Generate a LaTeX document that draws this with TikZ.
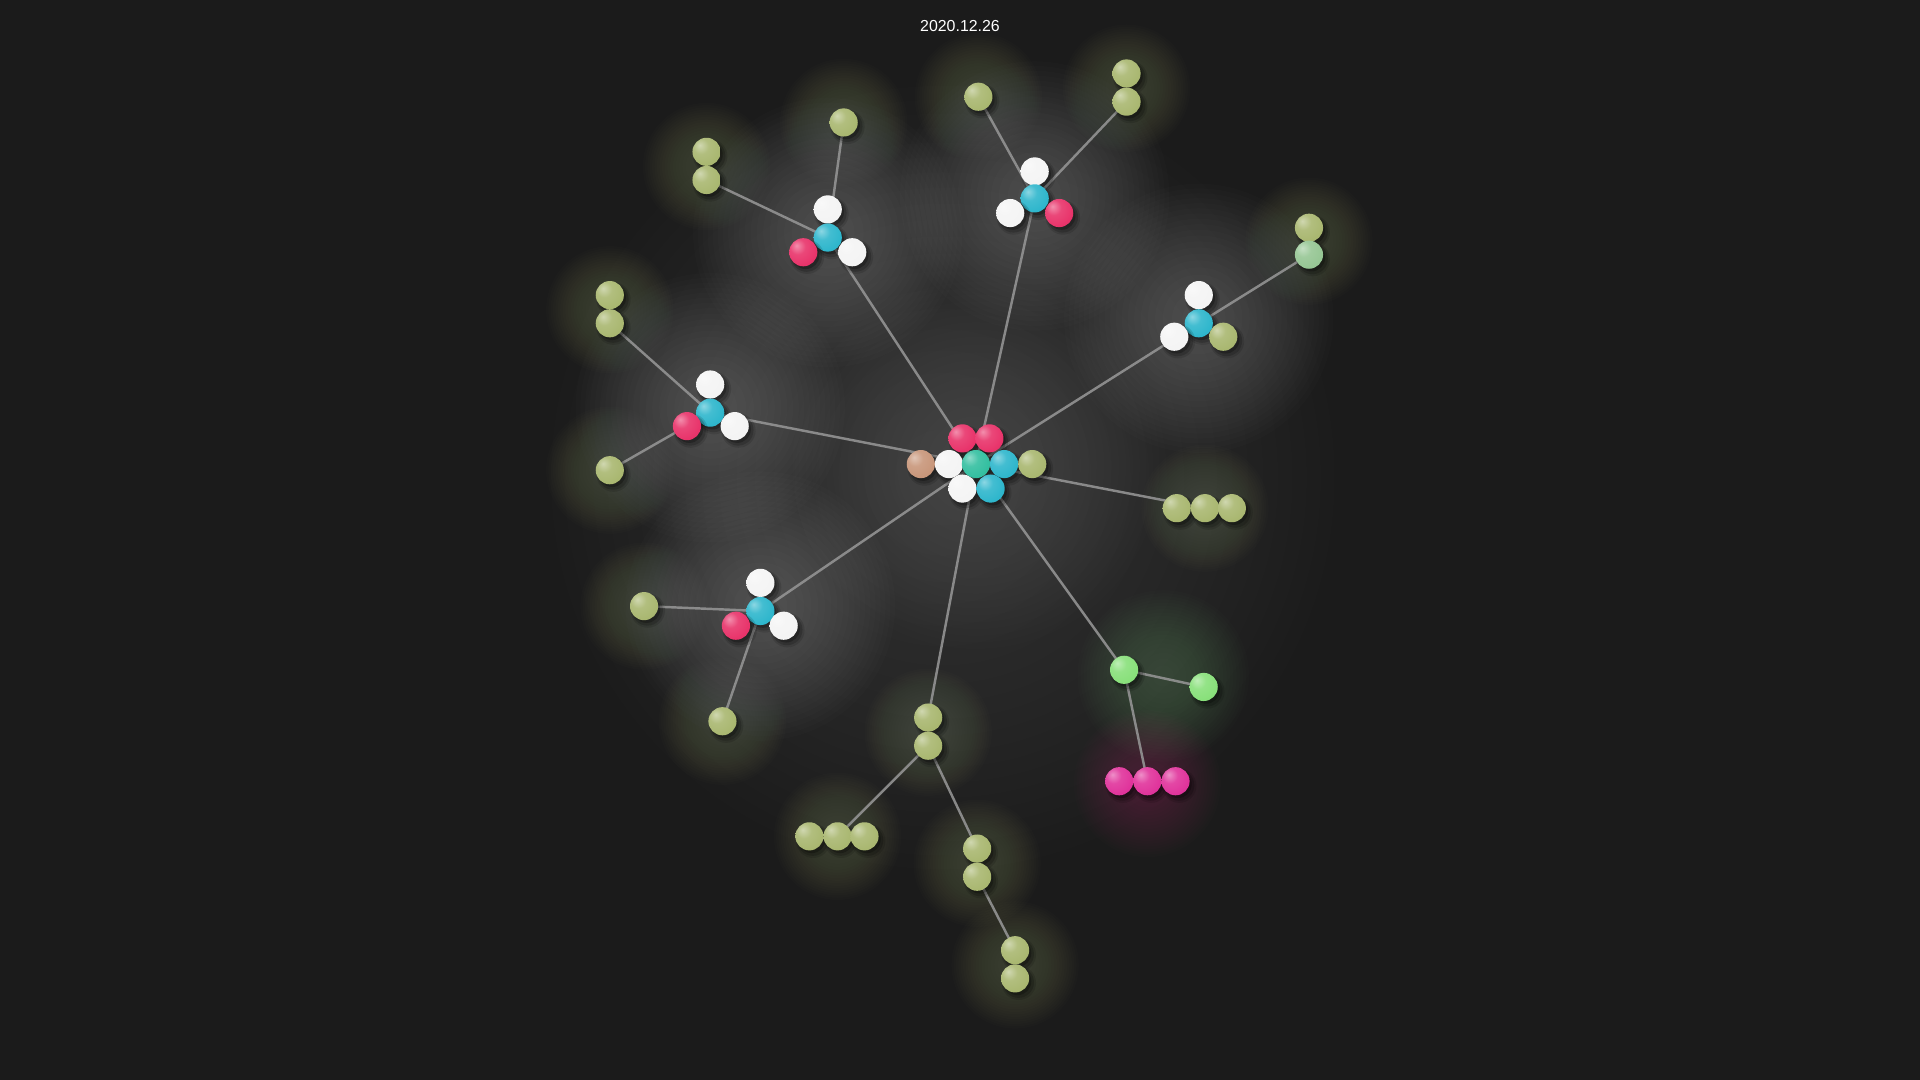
\documentclass[tikz,border=0pt]{standalone}
\usepackage{fontspec}
\setmainfont{Liberation Sans}
\usetikzlibrary{shadows}
\definecolor{bgc}{HTML}{1B1B1B}
\definecolor{cred}{HTML}{E8336A}
\definecolor{ccyan}{HTML}{2EB6CC}
\definecolor{cwhite}{HTML}{F4F4F4}
\definecolor{colive}{HTML}{A9B770}
\definecolor{cteal}{HTML}{33BFA0}
\definecolor{ctan}{HTML}{C8967A}
\definecolor{cgreen}{HTML}{88E07A}
\definecolor{cmag}{HTML}{E0339B}
\definecolor{csage}{HTML}{96C694}
\definecolor{edgec}{HTML}{939393}
\definecolor{oliveglow}{HTML}{D6DEA8}
\definecolor{greenglow}{HTML}{C0E8B8}
\definecolor{magglow}{HTML}{E870B0}
\makeatletter
\pgfdeclareradialshading[tikz@ball]{softball}{\pgfqpoint{-12bp}{12bp}}{%
 color(0bp)=(tikz@ball!55!white); color(14bp)=(tikz@ball!90!white);
 color(32bp)=(tikz@ball); color(50bp)=(tikz@ball!92!black);
 color(64bp)=(tikz@ball!82!black); color(90bp)=(tikz@ball!82!black)}
\tikzset{softball color/.code={\pgfutil@colorlet{tikz@ball}{#1}\def\tikz@shading{softball}\tikz@addmode{\tikz@mode@shadetrue}}}
\makeatother
\pgfdeclarelayer{bg}
\pgfdeclarelayer{edges}
\pgfsetlayers{bg,edges,main}
\newcommand\glowat[5]{% x, y, radius, colour, opacity per step
  \foreach \gi in {1,...,20}
    \fill[#4, opacity=#5] (#1,#2) circle ({#3*pow(\gi/20,0.7)});}
\tikzset{
  ball/.style={circle, inner sep=0pt, minimum size=23pt, draw=none,
    softball color=#1,
    general shadow={fill=black, opacity=0.12, shadow xshift=2.5pt, shadow yshift=-3pt, shadow scale=1.22},
    general shadow={fill=black, opacity=0.18, shadow xshift=2.5pt, shadow yshift=-3pt, shadow scale=1.1},
    general shadow={fill=black, opacity=0.25, shadow xshift=2pt, shadow yshift=-2.5pt, shadow scale=0.98}},
  link/.style={draw=edgec, line width=2pt, opacity=0.9},
  title/.style={text=white, font=\fontsize{13}{15}\selectfont}
}
\begin{document}
\begin{tikzpicture}[x=1pt,y=-1pt]
\begin{pgfonlayer}{bg}
\fill[bgc] (0,0) rectangle (1568,882);
\useasboundingbox (0,0) rectangle (1568,882);
% general haze
\glowat{770}{390}{320}{white}{0.006}
\glowat{797}{380}{150}{white}{0.006}
% cluster glows
\glowat{676}{190}{110}{white}{0.011}
\glowat{845}{160}{110}{white}{0.011}
\glowat{979}{260}{110}{white}{0.011}
\glowat{580}{333}{110}{white}{0.011}
\glowat{621}{495}{110}{white}{0.010}
% olive glows
\foreach \x/\y in {689/100, 577/136, 799/79, 920/72, 1069/197, 498/253, 498/384, 984/415, 526/495, 590/589, 758/598, 684/683, 798/705, 829/788}
  {\glowat{\x}{\y}{52}{oliveglow}{0.011}}
\glowat{950}{552}{70}{greenglow}{0.011}
\glowat{937}{640}{60}{magglow}{0.010}
\end{pgfonlayer}

\node[title] (ttl) at (784,21) {2020.12.26};

% center cluster
\node[ball=cred] (c1) at (786,358) {};
\node[ball=cred] (c2) at (808,358) {};
\node[ball=ctan] (c3) at (752,379) {};
\node[ball=cwhite] (c4) at (775,379) {};
\node[ball=cteal] (c5) at (797,379) {};
\node[ball=ccyan] (c6) at (820,379) {};
\node[ball=colive] (c7) at (843,379) {};
\node[ball=cwhite] (c8) at (786,399) {};
\node[ball=ccyan] (c9) at (809,399) {};

% cluster A
\node[ball=cwhite] (aW) at (676,171) {};
\node[ball=ccyan] (aC) at (676,194) {};
\node[ball=cred] (aR) at (656,206) {};
\node[ball=cwhite] (aW2) at (696,206) {};
% cluster B
\node[ball=cwhite] (bW) at (845,140) {};
\node[ball=ccyan] (bC) at (845,162) {};
\node[ball=cwhite] (bW2) at (825,174) {};
\node[ball=cred] (bR) at (865,174) {};
% cluster K
\node[ball=cwhite] (kW) at (979,241) {};
\node[ball=ccyan] (kC) at (979,264) {};
\node[ball=cwhite] (kW2) at (959,275) {};
\node[ball=colive] (kO) at (999,275) {};
% cluster D
\node[ball=cwhite] (dW) at (580,314) {};
\node[ball=ccyan] (dC) at (580,337) {};
\node[ball=cred] (dR) at (561,348) {};
\node[ball=cwhite] (dW2) at (600,348) {};
% cluster E
\node[ball=cwhite] (eW) at (621,476) {};
\node[ball=ccyan] (eC) at (621,499) {};
\node[ball=cred] (eR) at (601,511) {};
\node[ball=cwhite] (eW2) at (640,511) {};

% olive groups
\node[ball=colive] (o1) at (689,100) {};
\node[ball=colive] (o2a) at (577,124) {};
\node[ball=colive] (o2b) at (577,147) {};
\node[ball=colive] (o3) at (799,79) {};
\node[ball=colive] (o4a) at (920,60) {};
\node[ball=colive] (o4b) at (920,83) {};
\node[ball=colive] (o5a) at (1069,186) {};
\node[ball=csage] (o5b) at (1069,208) {};
\node[ball=colive] (o6a) at (498,241) {};
\node[ball=colive] (o6b) at (498,264) {};
\node[ball=colive] (o7) at (498,384) {};
\node[ball=colive] (t1) at (961,415) {};
\node[ball=colive] (t2) at (984,415) {};
\node[ball=colive] (t3) at (1006,415) {};
\node[ball=colive] (o8) at (526,495) {};
\node[ball=colive] (o9) at (590,589) {};
\node[ball=colive] (p1) at (758,586) {};
\node[ball=colive] (p2) at (758,609) {};
\node[ball=colive] (q1) at (661,683) {};
\node[ball=colive] (q2) at (684,683) {};
\node[ball=colive] (q3) at (706,683) {};
\node[ball=colive] (r1) at (798,693) {};
\node[ball=colive] (r2) at (798,716) {};
\node[ball=colive] (s1) at (829,776) {};
\node[ball=colive] (s2) at (829,799) {};
\node[ball=cgreen] (g1) at (918,547) {};
\node[ball=cgreen] (g2) at (983,561) {};
\node[ball=cmag] (m1) at (914,638) {};
\node[ball=cmag] (m2) at (937,638) {};
\node[ball=cmag] (m3) at (960,638) {};

\begin{pgfonlayer}{edges}
\foreach \a/\b in {aC/o1, aC/o2b, aC/c5, bC/o3, bC/o4b, bC/c5, kC/o5b, kC/c5,
  dC/o6b, dC/o7, dC/c5, eC/o8, eC/o9, eC/c5, t2/c5, p1/c5, p2/q2, p2/r1,
  r2/s1, g1/c5, g1/g2, g1/m2}
  \draw[link] (\a.center) -- (\b.center);
\end{pgfonlayer}
\end{tikzpicture}
\end{document}
